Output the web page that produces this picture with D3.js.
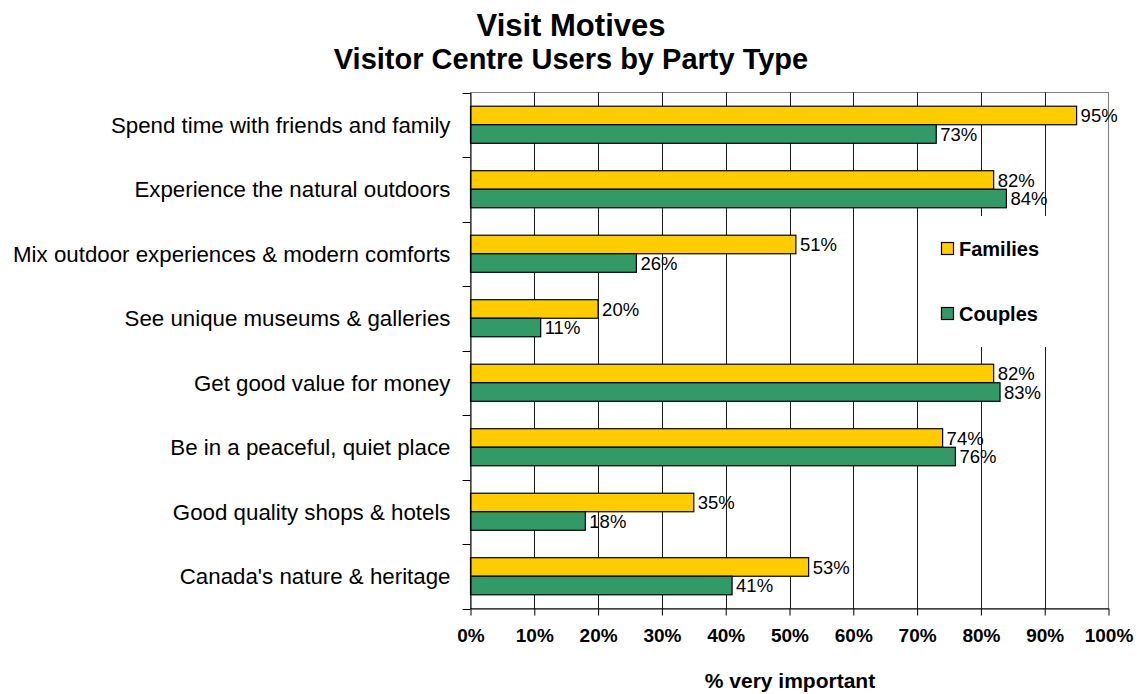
<!DOCTYPE html>
<html>
<head>
<meta charset="utf-8">
<script src="https://cdn.jsdelivr.net/npm/d3@7"></script>
<style>
  html, body { margin: 0; padding: 0; background: #fff; }
  svg { display: block; font-family: "Liberation Sans", Arial, sans-serif; }
</style>
</head>
<body>
<svg id="chart" width="1142" height="694"></svg>
<script>
// Visit motives by party type (% rating each as "very important")
const categories = [
  "Spend time with friends and family",
  "Experience the natural outdoors",
  "Mix outdoor experiences & modern comforts",
  "See unique museums & galleries",
  "Get good value for money",
  "Be in a peaceful, quiet place",
  "Good quality shops & hotels",
  "Canada's nature & heritage"
];
const seriesNames = ["Families", "Couples"];
const families = [95, 82, 51, 20, 82, 74, 35, 53];
const couples  = [73, 84, 26, 11, 83, 76, 18, 41];
const xTicks = [0, 10, 20, 30, 40, 50, 60, 70, 80, 90, 100];
const titleText = "Visit Motives";
const subtitleText = "Visitor Centre Users by Party Type";
const xAxisTitle = "% very important";

const colors = { Families: "#FFCC00", Couples: "#339966" };
const series = [
  { name: seriesNames[0], values: families },
  { name: seriesNames[1], values: couples }
];

const svg = d3.select("#chart");
const plot = { left: 470.5, right: 1108.5, top: 92.5, bottom: 608.5 };

const x = d3.scaleLinear().domain([0, 100]).range([plot.left, plot.right]);
const y = d3.scaleBand().domain(categories).range([plot.top, plot.bottom]);
const inner = d3.scaleBand().domain(seriesNames)
  .range([0, y.bandwidth()]).paddingOuter(0.74).paddingInner(0);

// Titles
svg.append("text").attr("x", 571).attr("y", 36).attr("text-anchor", "middle")
  .attr("font-size", 31).attr("font-weight", "bold").text(titleText);
svg.append("text").attr("x", 571).attr("y", 69).attr("text-anchor", "middle")
  .attr("font-size", 29).attr("font-weight", "bold").text(subtitleText);

// Plot area frame (gray)
svg.append("rect")
  .attr("x", plot.left).attr("y", plot.top)
  .attr("width", plot.right - plot.left).attr("height", plot.bottom - plot.top)
  .attr("fill", "none").attr("stroke", "#808080").attr("stroke-width", 1);

// Vertical gridlines
svg.append("g").selectAll("line")
  .data(xTicks.filter(d => d > 0 && d < 100))
  .join("line")
  .attr("x1", d => Math.round(x(d)) + 0.5).attr("x2", d => Math.round(x(d)) + 0.5)
  .attr("y1", plot.top).attr("y2", plot.bottom)
  .attr("stroke", "#1a1a1a").attr("stroke-width", 1);

// Bars
const groups = svg.append("g").selectAll("g")
  .data(series).join("g");
groups.selectAll("rect")
  .data(s => s.values.map((v, i) => ({ name: s.name, cat: categories[i], v })))
  .join("rect")
  .attr("x", x(0))
  .attr("y", d => y(d.cat) + inner(d.name))
  .attr("width", d => x(d.v) - x(0))
  .attr("height", inner.bandwidth())
  .attr("fill", d => colors[d.name])
  .attr("stroke", "#000").attr("stroke-width", 1.2);

// Value labels
groups.selectAll("text")
  .data(s => s.values.map((v, i) => ({ name: s.name, cat: categories[i], v })))
  .join("text")
  .attr("x", d => x(d.v) + 4)
  .attr("y", d => y(d.cat) + inner(d.name) + inner.bandwidth() / 2)
  .attr("dy", "0.36em")
  .attr("font-size", 18.5)
  .text(d => d.v + "%");

// Legend
const legend = svg.append("g");
legend.append("rect").attr("x", 918).attr("y", 216).attr("width", 189).attr("height", 131)
  .attr("fill", "#fff");
seriesNames.forEach((name, i) => {
  const ly = 249 + i * 65;
  legend.append("rect").attr("x", 941.5).attr("y", ly - 6.5).attr("width", 12).attr("height", 12)
    .attr("fill", colors[name]).attr("stroke", "#000").attr("stroke-width", 1.2);
  legend.append("text").attr("x", 959).attr("y", ly).attr("dy", "0.36em")
    .attr("font-size", 20).attr("font-weight", "bold").text(name);
});

// Axes
const xAxis = d3.axisBottom(x).tickValues(xTicks).tickFormat(d => d + "%")
  .tickSizeInner(7).tickSizeOuter(0).tickPadding(13);
const gx = svg.append("g").attr("transform", `translate(0,${plot.bottom})`).call(xAxis);
gx.select(".domain").attr("stroke", "#000");
gx.selectAll(".tick line").attr("stroke", "#000");
gx.selectAll(".tick text").attr("font-size", 19).attr("font-weight", "bold")
  .attr("font-family", "Liberation Sans, Arial, sans-serif").attr("fill", "#000");

const yAxis = d3.axisLeft(y).tickSize(0).tickPadding(20);
const gy = svg.append("g").attr("transform", `translate(${plot.left},0)`).call(yAxis);
gy.select(".domain").attr("stroke", "#000");
gy.selectAll(".tick text").attr("font-size", 22.3)
  .attr("font-family", "Liberation Sans, Arial, sans-serif").attr("fill", "#000")
  .attr("dy", "0.36em");

// Category boundary ticks on the left axis
const bounds = categories.map(c => y(c)).concat([plot.bottom]);
svg.append("g").selectAll("line").data(bounds).join("line")
  .attr("x1", plot.left - 8).attr("x2", plot.left)
  .attr("y1", d => Math.round(d) + 0.5).attr("y2", d => Math.round(d) + 0.5)
  .attr("stroke", "#000");

// X axis title
svg.append("text").attr("x", 790).attr("y", 688).attr("text-anchor", "middle")
  .attr("font-size", 21).attr("font-weight", "bold").text(xAxisTitle);
</script>
</body>
</html>
